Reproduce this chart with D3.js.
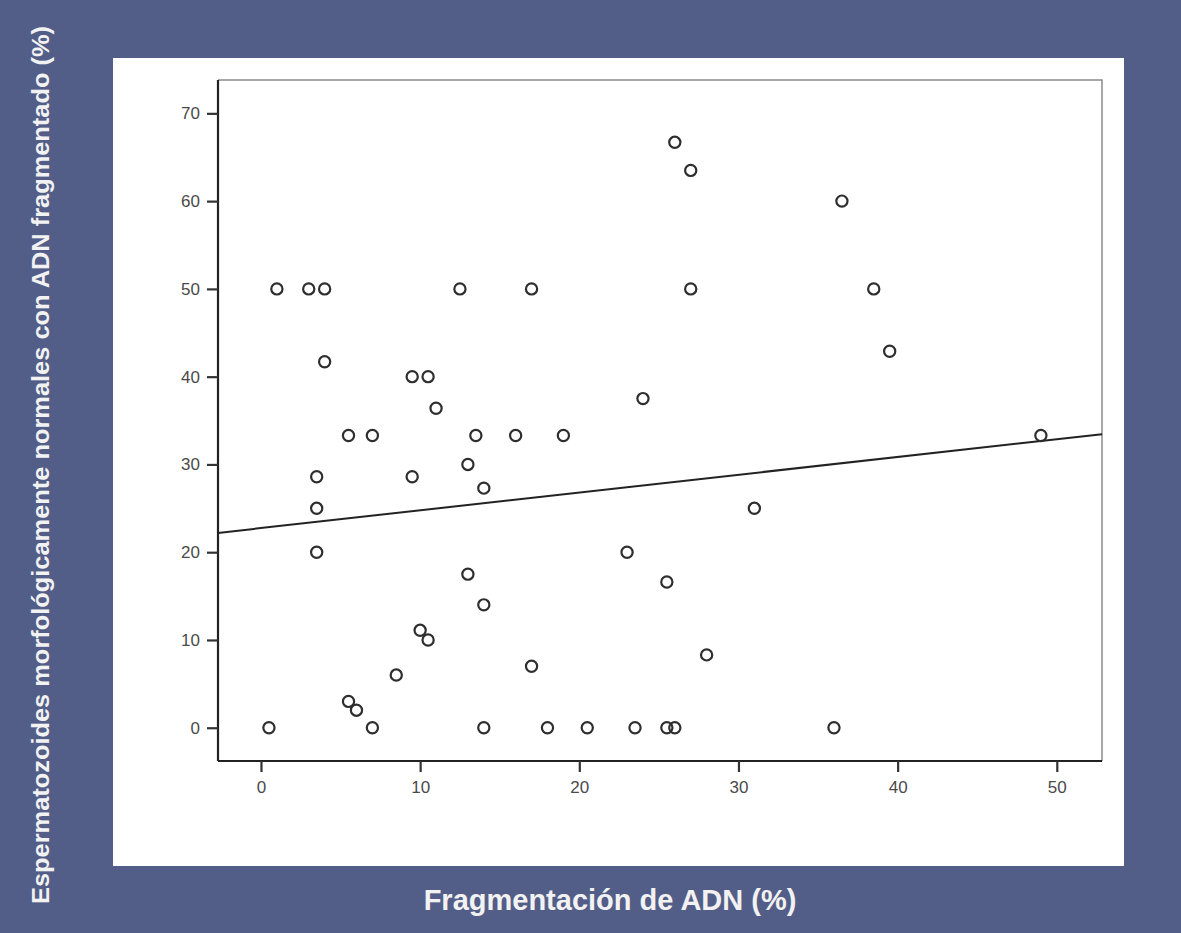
<!DOCTYPE html>
<html>
<head>
<meta charset="utf-8">
<script src="https://cdn.jsdelivr.net/npm/d3@7"></script>
<style>
  body { margin: 0; background: #535e88; }
  svg { display: block; }
</style>
</head>
<body>
<div id="chart"></div>
<script>
// Fragmentación de ADN (%) vs espermatozoides normales con ADN fragmentado (%)
var fragX = [0.5, 7, 14, 18, 20.5, 23.5, 25.5, 26, 36,
             5.5, 6, 8.5, 10, 10.5, 13, 14, 3.5, 17, 23, 25.5, 28, 31,
             1, 3, 4, 12.5, 17, 27, 38.5,
             4, 9.5, 10.5, 11, 5.5, 7, 13.5, 16, 19, 49,
             3.5, 9.5, 13, 14, 3.5, 24,
             26, 27, 36.5, 39.5];
var normY = [0, 0, 0, 0, 0, 0, 0, 0, 0,
             3, 2, 6, 11.1, 10, 17.5, 14, 20, 7, 20, 16.6, 8.3, 25,
             50, 50, 50, 50, 50, 50, 50,
             41.7, 40, 40, 36.4, 33.3, 33.3, 33.3, 33.3, 33.3, 33.3,
             28.6, 28.6, 30, 27.3, 25, 37.5,
             66.7, 63.5, 60, 42.9];
var xTicks = [0, 10, 20, 30, 40, 50];
var yTicks = [0, 10, 20, 30, 40, 50, 60, 70];
// fit line
var fitLine = [{x: -2.7, y: 22.2}, {x: 52.84, y: 33.45}];

var width = 1181, height = 933;
var plot = {left: 218, right: 1102, top: 80, bottom: 761};

var svg = d3.select('#chart').append('svg')
  .attr('width', width)
  .attr('height', height);

svg.append('rect')
  .attr('width', width).attr('height', height)
  .attr('fill', '#535e88');

// white panel
svg.append('rect')
  .attr('x', 113).attr('y', 58)
  .attr('width', 1011).attr('height', 808)
  .attr('fill', '#ffffff');

var x = d3.scaleLinear().domain([-2.7, 52.84]).range([plot.left, plot.right]);
var y = d3.scaleLinear().domain([-3.79, 73.8]).range([plot.bottom, plot.top]);

// top and right frame, lighter
svg.append('path')
  .attr('d', 'M' + plot.left + ',' + plot.top + 'H' + plot.right + 'V' + plot.bottom)
  .attr('fill', 'none')
  .attr('stroke', '#8a8a8a')
  .attr('stroke-width', 1.5);

var xAxis = svg.append('g')
  .attr('transform', 'translate(0,' + plot.bottom + ')')
  .call(d3.axisBottom(x).tickValues(xTicks).tickSize(11).tickPadding(9).tickSizeOuter(0));

var yAxis = svg.append('g')
  .attr('transform', 'translate(' + plot.left + ',0)')
  .call(d3.axisLeft(y).tickValues(yTicks).tickSize(11).tickPadding(7).tickSizeOuter(0));

[xAxis, yAxis].forEach(function(a) {
  a.select('.domain').attr('stroke', '#222').attr('stroke-width', 2.2);
  a.selectAll('.tick line').attr('stroke', '#333').attr('stroke-width', 2.2);
  a.selectAll('.tick text')
    .attr('fill', '#4a4a4a')
    .style('font-family', 'Liberation Sans, Arial, sans-serif')
    .style('font-size', '17px');
});
// extend domains to the frame corners
xAxis.select('.domain').attr('d', 'M' + plot.left + ',0H' + plot.right);
yAxis.select('.domain').attr('d', 'M0,' + plot.top + 'V' + plot.bottom);

// regression line
svg.append('path')
  .datum(fitLine)
  .attr('d', d3.line().x(function(d) { return x(d.x); }).y(function(d) { return y(d.y); }))
  .attr('fill', 'none')
  .attr('stroke', '#222')
  .attr('stroke-width', 2);

// points
svg.append('g').selectAll('circle')
  .data(d3.range(fragX.length))
  .enter().append('circle')
  .attr('cx', function(i) { return x(fragX[i]); })
  .attr('cy', function(i) { return y(normY[i]); })
  .attr('r', 5.6)
  .attr('fill', 'none')
  .attr('stroke', '#2e2e2e')
  .attr('stroke-width', 2.2);

// axis titles
svg.append('text')
  .attr('x', 610).attr('y', 910)
  .attr('text-anchor', 'middle')
  .attr('fill', '#f2f2f2')
  .style('font-family', 'Liberation Sans, Arial, sans-serif')
  .style('font-weight', 'bold')
  .style('font-size', '29px')
  .text('Fragmentación de ADN (%)');

svg.append('text')
  .attr('transform', 'translate(49,465) rotate(-90)')
  .attr('text-anchor', 'middle')
  .attr('fill', '#f2f2f2')
  .attr('textLength', 878)
  .attr('lengthAdjust', 'spacingAndGlyphs')
  .style('font-family', 'Liberation Sans, Arial, sans-serif')
  .style('font-weight', 'bold')
  .style('font-size', '23px')
  .text('Espermatozoides morfológicamente normales con ADN fragmentado (%)');
</script>
</body>
</html>
